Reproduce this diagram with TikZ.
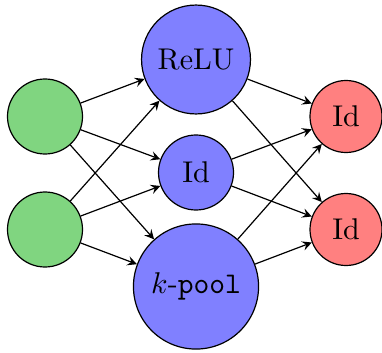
\documentclass[tikz,border=0pt]{standalone}
\usetikzlibrary{arrows.meta}
\definecolor{inputgreen}{RGB}{128,213,128}
\begin{document}
\begin{tikzpicture}[x=0.3333pt,y=-0.3333pt,
  neuron/.style={circle,draw=black,inner sep=0pt},
  inputneuron/.style={neuron,fill=inputgreen,minimum size=25pt},
  hiddenneuron/.style={neuron,fill=blue!50},
  outputneuron/.style={neuron,fill=red!50,minimum size=24pt},
  edge/.style={-stealth}]
  \useasboundingbox (0,0) rectangle (382,352);

  % input layer
  \node[inputneuron] (in1) at (45,116.5) {};
  \node[inputneuron] (in2) at (45,229.5) {};

  % hidden layer
  \node[hiddenneuron,minimum size=36.3pt] (relu) at (196,59.5) {ReLU};
  \node[hiddenneuron,minimum size=25pt] (id) at (196,172.5) {Id};
  \node[hiddenneuron,minimum size=41.7pt] (pool) at (196,286.5) {$k$-\texttt{pool}};

  % output layer
  \node[outputneuron] (out1) at (346,116.5) {Id};
  \node[outputneuron] (out2) at (346,229.5) {Id};

  % connections
  \foreach \s in {in1,in2}
    \foreach \t in {relu,id,pool}
      \draw[edge] (\s) -- (\t);
  \foreach \s in {relu,id,pool}
    \foreach \t in {out1,out2}
      \draw[edge] (\s) -- (\t);
\end{tikzpicture}
\end{document}
